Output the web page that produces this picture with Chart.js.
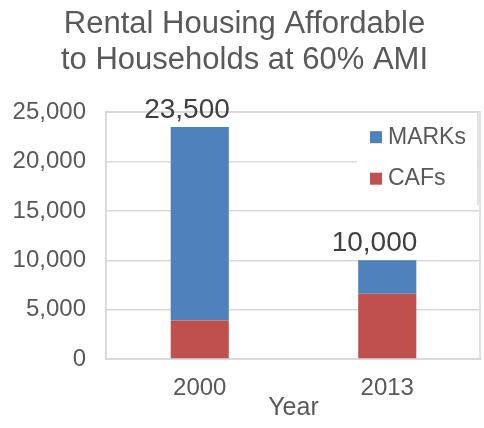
<!DOCTYPE html>
<html>
<head>
<meta charset="utf-8">
<script src="https://cdn.jsdelivr.net/npm/chart.js@4"></script>
<style>
  html, body { margin: 0; padding: 0; background: #fff; }
  #wrap { width: 484px; height: 428px; }
</style>
</head>
<body>
<div id="wrap"><canvas id="chart" width="484" height="428"></canvas></div>
<script>
// ---------- DATOS ----------
const years = ['2000', '2013'];
const cafs = [3900, 6600];
const marks = [19600, 3400];
const yTicks = [0, 5000, 10000, 15000, 20000, 25000];

const GRAY = '#595959';
const LINE = '#d9d9d9';
const FONT = "'Liberation Sans', Arial, sans-serif";

// marco alrededor del área de la gráfica
const frame = {
    id: 'frame',
    beforeDatasetsDraw(chart) {
        const c = chart.ctx;
        const a = chart.chartArea;
        c.save();
        c.strokeStyle = LINE;
        c.lineWidth = 1.5;
        c.strokeRect(a.left, a.top, a.right - a.left - 1, a.bottom - a.top);
        c.restore();
    }
};

// totales encima de cada barra
const totalLabels = {
    id: 'totalLabels',
    afterDatasetsDraw(chart) {
        const c = chart.ctx;
        const meta = chart.getDatasetMeta(1);
        const y = chart.scales.y;
        c.save();
        c.font = '28px ' + FONT;
        c.fillStyle = '#404040';
        c.textAlign = 'right';
        c.textBaseline = 'alphabetic';
        years.forEach((yr, i) => {
            const total = cafs[i] + marks[i];
            const bar = meta.data[i];
            c.fillText(total.toLocaleString('en-US'), bar.x + bar.width / 2 + 1, y.getPixelForValue(total) - 9);
        });
        c.restore();
    }
};

// leyenda dentro del área de la gráfica, arriba a la derecha
const boxLegend = {
    id: 'boxLegend',
    afterDraw(chart) {
        const c = chart.ctx;
        const a = chart.chartArea;
        const left = a.right - 124, top = a.top, h = 93;
        c.save();
        c.fillStyle = '#fff';
        c.fillRect(left, top + 1, a.right - left - 2, h);
        c.strokeStyle = LINE;
        c.lineWidth = 1.5;
        c.beginPath();
        c.moveTo(a.right - 3, top);
        c.lineTo(a.right - 3, top + h);
        c.stroke();
        c.font = '23px ' + FONT;
        c.textBaseline = 'middle';
        const items = chart.data.datasets.slice().reverse();
        items.forEach((ds, i) => {
            const cy = top + 25 + i * 41.5;
            c.fillStyle = ds.backgroundColor;
            c.fillRect(left + 13, cy - 6, 12, 12);
            c.fillStyle = GRAY;
            c.fillText(ds.label, left + 31, cy);
        });
        c.restore();
    }
};

// ---------- INICIALIZAR GRÁFICA ----------
const ctx = document.getElementById('chart');
const chart = new Chart(ctx, {
    type: 'bar',
    data: {
        labels: years,
        datasets: [
            { label: 'CAFs', data: cafs, backgroundColor: '#c0504d' },
            { label: 'MARKs', data: marks, backgroundColor: '#4f81bd' }
        ]
    },
    options: {
        responsive: false,
        animation: false,
        layout: { padding: { left: 8, right: 3, top: 4, bottom: 0 } },
        datasets: { bar: { barPercentage: 0.31, categoryPercentage: 1 } },
        plugins: {
            legend: { display: false },
            tooltip: { enabled: false },
            title: {
                display: true,
                text: ['Rental Housing Affordable', 'to Households at 60% AMI'],
                color: GRAY,
                font: { family: FONT, size: 31, weight: 'normal', lineHeight: 1.18 },
                padding: { top: 2, bottom: 33 }
            }
        },
        scales: {
            x: {
                stacked: true,
                grid: { display: false },
                border: { color: LINE, width: 1.5 },
                afterFit(scale) { scale.height = 69; },
                ticks: { color: GRAY, font: { family: FONT, size: 24 }, padding: 7 },
                title: {
                    display: true, text: 'Year', color: GRAY,
                    font: { family: FONT, size: 25 }, padding: { top: 0, bottom: 5 }
                }
            },
            y: {
                stacked: true,
                min: 0, max: 25000,
                afterBuildTicks(scale) { scale.ticks = yTicks.map(v => ({ value: v })); },
                afterFit(scale) { scale.width = 98; },
                grid: { color: LINE, lineWidth: 1.5, drawTicks: false },
                border: { color: LINE, width: 1.5 },
                ticks: {
                    color: GRAY, font: { family: FONT, size: 24 }, padding: 20,
                    callback: v => v.toLocaleString('en-US')
                }
            }
        }
    },
    plugins: [frame, totalLabels, boxLegend]
});
</script>
</body>
</html>
